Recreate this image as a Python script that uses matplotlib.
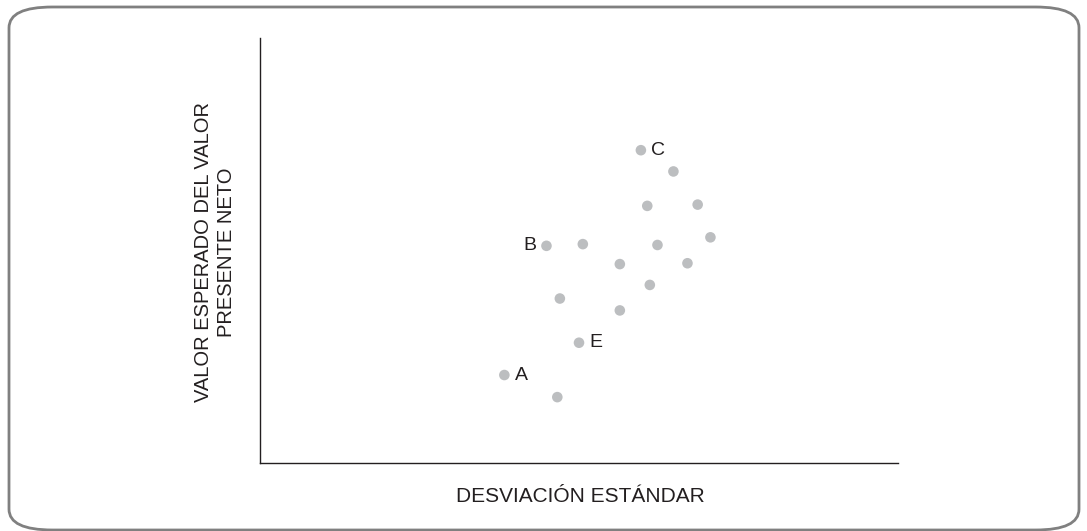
import matplotlib
matplotlib.use("Agg")
import matplotlib.pyplot as plt
from matplotlib.patches import FancyBboxPatch

plt.rcParams['font.family'] = ['Liberation Sans', 'DejaVu Sans']

# Data (standard deviation, expected NPV) in arbitrary units
std_dev = [5.97, 6.48, 6.07, 6.86, 4.49, 5.06, 6.23, 7.06, 5.64, 6.70, 6.11, 4.70, 5.64, 5.00, 3.83, 4.66]
exp_npv = [7.36, 6.86, 6.05, 6.08, 5.11, 5.15, 5.13, 5.31, 4.68, 4.70, 4.19, 3.87, 3.59, 2.83, 2.07, 1.55]
labels  = ["C", "", "", "", "B", "", "", "", "", "", "", "", "", "E", "A", ""]
label_side = ["right", "", "", "", "left", "", "", "", "", "", "", "", "", "right", "right", ""]

x_label = "DESVIACIÓN ESTÁNDAR"
y_label = "VALOR ESPERADO DEL VALOR\nPRESENTE NETO"

fig = plt.figure(figsize=(10.87, 5.31), dpi=100)

# rounded frame
frame = FancyBboxPatch((9/1087, 1 - 530/531), (1079 - 9)/1087, (530 - 7)/531,
                       boxstyle="round,pad=0,rounding_size=0.04",
                       transform=fig.transFigure, facecolor="none",
                       edgecolor="#808080", linewidth=2, mutation_aspect=531/1087*2,
                       zorder=-1)
fig.patches.append(frame)

ax = fig.add_axes([260/1087, 1 - 463/531, (898 - 260)/1087, (463 - 38)/531])
ax.set_facecolor("none")
ax.scatter(std_dev, exp_npv, s=58, color="#bcbec0", edgecolors="none", zorder=3)
for x, y, t, side in zip(std_dev, exp_npv, labels, label_side):
    if not t:
        continue
    if side == "right":
        ax.annotate(t, (x, y), xytext=(7.5, 0), textcoords="offset points",
                    ha="left", va="center", fontsize=14, color="#231f20")
    else:
        ax.annotate(t, (x, y), xytext=(-7.5, 0), textcoords="offset points",
                    ha="right", va="center", fontsize=14, color="#231f20")

ax.set_xlim(0, 10)
ax.set_ylim(0, 10)
ax.set_xticks([])
ax.set_yticks([])
for s in ["top", "right"]:
    ax.spines[s].set_visible(False)
for s in ["left", "bottom"]:
    ax.spines[s].set_color("#231f20")
    ax.spines[s].set_linewidth(1.0)

fig.text(580/1087, 1 - 496/531, x_label, ha="center", va="center",
         fontsize=15, color="#231f20")
fig.text(215/1087, 1 - 252/531, y_label, ha="center", va="center",
         rotation=90, fontsize=14.5, color="#231f20", linespacing=1.28,
         multialignment="center")

fig.savefig("out.png", dpi=100)
